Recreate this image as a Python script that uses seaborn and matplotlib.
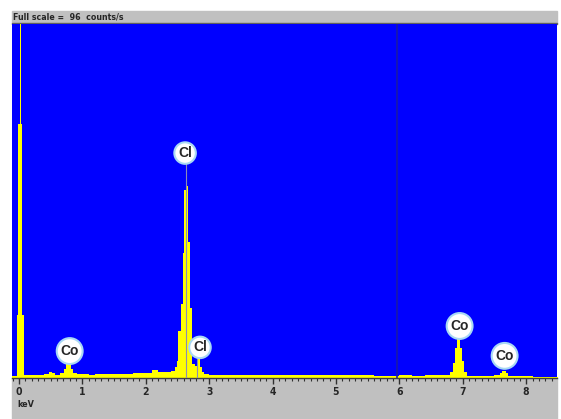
import numpy as np
import matplotlib
matplotlib.use("Agg")
import matplotlib.pyplot as plt
import seaborn as sns
from matplotlib.patches import Rectangle

# EDS spectrum, counts per energy bin (keV edges)
edges = [-0.11, -0.035, -0.01, 0.015, 0.032, 0.055, 0.08, 0.2, 0.3, 0.4, 0.47,
         0.52, 0.57, 0.65, 0.71, 0.74, 0.82, 0.86, 0.92, 1.0,
         1.1, 1.2, 1.3, 1.4, 1.5, 1.6, 1.7, 1.8, 1.9, 2.0, 2.1, 2.2, 2.3, 2.4,
         2.46, 2.49, 2.513, 2.55, 2.582, 2.603, 2.634, 2.67, 2.697, 2.724,
         2.776, 2.803, 2.855, 2.882, 2.92, 3.0,
         3.2, 3.4, 3.6, 3.8, 4.0, 4.2, 4.4, 4.6, 4.8, 5.0, 5.2, 5.4, 5.6, 5.8,
         6.0, 6.2, 6.4, 6.6, 6.8, 6.85, 6.88, 6.91, 6.96, 6.99, 7.02, 7.07,
         7.2, 7.5, 7.58, 7.62, 7.68, 7.72, 7.8, 8.1, 8.5]
counts = [0.5, 17, 69, 96, 69, 17, 0.8, 0.7, 0.8, 1.0,
          1.7, 1.4, 0.9, 1.4, 2.5, 4.6, 2.5, 1.3, 1.0,
          1.0, 0.9, 1.0, 1.1, 1.0, 1.1, 1.1, 1.2, 1.3, 1.4, 1.4, 2.1, 1.7, 1.6,
          1.9, 2.9, 4.6, 12.8, 20, 34, 51, 52, 37, 19,
          3.8, 3.2, 5.3, 3.0, 1.6, 1.0,
          0.9, 0.8, 0.8, 0.7, 0.8, 0.7, 0.7, 0.8, 0.8, 0.7, 0.8, 0.7, 0.7, 0.6,
          0.6, 0.7, 0.6, 0.7, 0.8, 1.5, 4.0, 8.0, 10.6, 8.0, 4.5, 1.5,
          0.6, 0.5, 0.8, 1.3, 1.9, 1.3, 0.6, 0.5, 0.4]

# peak labels
label_names = ["Co", "Cl", "Cl", "Co", "Co"]
label_energy = [0.80, 2.62, 2.855, 6.95, 7.66]
label_height = [7.3, 61, 8.3, 14.1, 6.0]
# marker lines for the labelled Cl lines
line_energy = [2.634, 2.81]
line_top = [58, 6.5]

centers = [(a + b) / 2 for a, b in zip(edges[:-1], edges[1:])]

sns.set_style("white")
plt.rcParams['font.family'] = ['DejaVu Sans']
plt.rcParams['font.stretch'] = 'condensed'

fig = plt.figure(figsize=(5.61, 4.19), dpi=100)
W, H = 561, 419
# gray panels
fig.patches.append(Rectangle((12 / W, 1 - 24 / H), 545 / W, 13 / H,
                             transform=fig.transFigure, color='#c0c0c0', zorder=-5))
fig.patches.append(Rectangle((12 / W, 1 - 24 / H), 545 / W, 1.2 / H,
                             transform=fig.transFigure, color='#606060', zorder=-4))
fig.patches.append(Rectangle((12 / W, 0), 545 / W, 41 / H,
                             transform=fig.transFigure, color='#c0c0c0', zorder=-5))
fig.text(13 / W, 1 - 17.5 / H, "Full scale =  96  counts/s", fontsize=6.3,
         fontweight='bold', fontstretch='condensed', va='center', ha='left')
fig.text(17 / W, 1 - 404 / H, "keV", fontsize=6.5, fontweight='bold',
         fontstretch='condensed', va='center', ha='left')

ax = fig.add_axes([12 / W, 1 - 378 / H, 545 / W, 354 / H])
ax.set_facecolor('#0000ff')

sns.histplot(x=centers, weights=counts, bins=edges, element='step', fill=True,
             color='#ffff00', alpha=1, linewidth=0, ax=ax)

ax.axvline(5.97, color='#1a1aa8', lw=1.2, zorder=3)

for e, t in zip(line_energy, line_top):
    ax.plot([e, e], [0, t], color='#8c8cb4', lw=0.8, zorder=4)

for name, e, h in zip(label_names, label_energy, label_height):
    ax.text(e, h, name, ha='center', va='center', fontsize=10, fontweight='bold',
            family=['Liberation Sans', 'DejaVu Sans'], fontstretch='normal', zorder=5,
            bbox=dict(boxstyle='circle,pad=0.27', fc='white', ec='#a8d8f4', lw=1.5))

ax.set_xlim(-0.11, 8.486)
ax.set_ylim(0, 96)
ax.set_xlabel("")
ax.set_ylabel("")
ax.set_yticks([])
ax.set_xticks(range(0, 9))
ax.set_xticks(np.arange(-0.1, 8.5, 0.1), minor=True)
ax.tick_params(axis='x', which='major', bottom=True, direction='out', length=4.3,
               width=1, color='#303030', pad=2.5, labelsize=7.5)
ax.tick_params(axis='x', which='minor', bottom=True, direction='out', length=2.4,
               width=0.8, color='#303030')
for lab in ax.get_xticklabels():
    lab.set_fontweight('bold')
for s in ['top', 'left', 'right']:
    ax.spines[s].set_visible(False)
ax.spines['bottom'].set_color('#404040')
ax.spines['bottom'].set_linewidth(1)

fig.savefig("out.png", dpi=100)
